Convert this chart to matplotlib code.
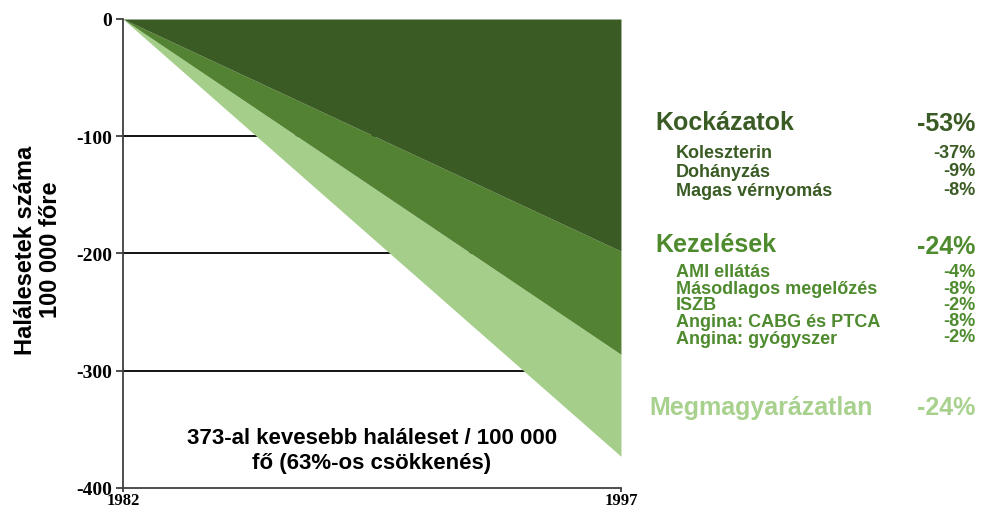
import matplotlib
matplotlib.use("Agg")
import matplotlib.pyplot as plt

years = [1982, 1997]
risk = [0, -198]
treat = [0, -286]
total = [0, -373]
yticks = [0, -100, -200, -300, -400]

c_dark = "#3a5c24"
c_mid = "#538332"
c_light = "#a5ce8b"

fig = plt.figure(figsize=(9.81, 5.10), dpi=100)
ax = fig.add_axes([0.1254, 0.0412, 0.5076, 0.9196])

for v in [-100, -200, -300]:
    ax.axhline(v, color="black", lw=1.3, zorder=1)

ax.fill_between(years, treat, total, color=c_light, lw=0, zorder=2)
ax.fill_between(years, risk, treat, color=c_mid, lw=0, zorder=2)
ax.fill_between(years, 0, risk, color=c_dark, lw=0, zorder=2)

ax.set_xlim(1982, 1997)
ax.set_ylim(-400, 0)
ax.set_yticks(yticks)
ax.set_xticks(years)
ax.set_yticklabels([str(v) for v in yticks], fontfamily="Liberation Serif",
                   fontweight="bold", fontsize=14)
ax.set_xticklabels([str(v) for v in years], fontfamily="Liberation Serif",
                   fontweight="bold", fontsize=12)
ax.tick_params(axis="y", length=5, width=1.3, color="#404040", pad=3)
ax.tick_params(axis="x", length=3, width=1.3, color="#404040", pad=0)
for s in ["top", "right"]:
    ax.spines[s].set_visible(False)
for s in ["left", "bottom"]:
    ax.spines[s].set_color("#404040")
    ax.spines[s].set_linewidth(1.3)
    ax.spines[s].set_zorder(3)

fig.text(38 / 981, 1 - 250 / 510, "Halálesetek száma\n100 000 főre",
         fontfamily="Liberation Sans", fontweight="bold", fontsize=17,
         linespacing=1.15, rotation=90, ha="center", va="center")

ax.text(0.5, (489 - 451) / 469, "373-al kevesebb haláleset / 100 000\nfő (63%-os csökkenés)",
        transform=ax.transAxes, ha="center", va="center",
        fontfamily="Liberation Sans", fontweight="bold", fontsize=16,
        linespacing=1.2, zorder=4)

def fy(py):
    return 1 - py / 510

right_x = 975 / 981
sub_x = 676 / 981

groups = [
    ("Kockázatok", "-53%", 655, 130, 131, c_dark,
     [("Koleszterin", "-37%", 158, 158), ("Dohányzás", "-9%", 177, 176),
      ("Magas vérnyomás", "-8%", 196, 195)]),
    ("Kezelések", "-24%", 655, 252, 254, "#4e8a2e",
     [("AMI ellátás", "-4%", 277, 277), ("Másodlagos megelőzés", "-8%", 294, 294),
      ("ISZB", "-2%", 310, 310), ("Angina: CABG és PTCA", "-8%", 327, 326),
      ("Angina: gyógyszer", "-2%", 344, 342)]),
    ("Megmagyarázatlan", "-24%", 649, 415, 415, "#a8d18e", []),
]

for head, hval, hx, hy, hvy, col, items in groups:
    fig.text(hx / 981, fy(hy), head, color=col, fontfamily="Liberation Sans",
             fontweight="bold", fontsize=18, ha="left", va="baseline")
    fig.text(right_x, fy(hvy), hval, color=col, fontfamily="Liberation Sans",
             fontweight="bold", fontsize=18, ha="right", va="baseline")
    for name, val, ny, vy in items:
        fig.text(sub_x, fy(ny), name, color=col, fontfamily="Liberation Sans",
                 fontweight="bold", fontsize=13, ha="left", va="baseline")
        fig.text(right_x, fy(vy), val, color=col, fontfamily="Liberation Sans",
                 fontweight="bold", fontsize=13, ha="right", va="baseline")

fig.savefig("out.png", dpi=100)
